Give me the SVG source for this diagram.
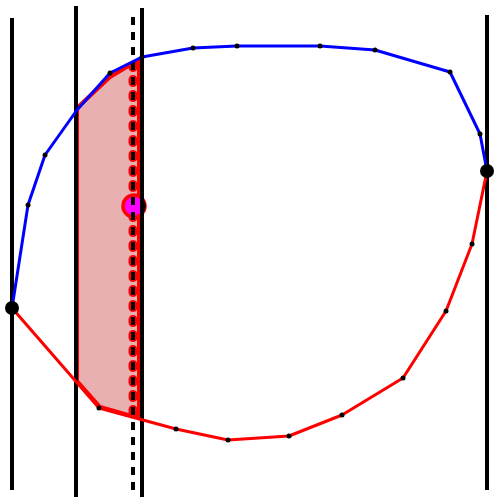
<svg xmlns="http://www.w3.org/2000/svg" width="494" height="497" viewBox="0 0 494 497">
<style>
.vline{stroke:#000;stroke-width:4;fill:none}
.blue{stroke:#0000ff;stroke-width:3;fill:none;stroke-linejoin:round}
.red{stroke:#ff0000;stroke-width:3;fill:none;stroke-linejoin:round}
.dot{fill:#000}
</style>
<defs>
<clipPath id="regclip"><path d="M77,108 L110,77 L130,65 L141,60 L141,417 L128,415 L100,407 L77,381 Z"/></clipPath>
</defs>
<rect width="494" height="497" fill="#fff"/>
<g id="region">
<path d="M77,108 L110,77 L130,65 L141,60 L141,417 L128,415 L100,407 L77,381 Z" fill="#e8b0b0" stroke="#ff0000" stroke-width="4" stroke-linejoin="round"/>
<line x1="139" y1="62" x2="139" y2="416" stroke="#ff0000" stroke-width="4"/>
<line x1="133" y1="17" x2="133" y2="492" stroke="#ff0000" stroke-width="9" stroke-linecap="round" stroke-dasharray="3 12" stroke-dashoffset="-2.5" clip-path="url(#regclip)"/>
</g>
<g id="point">
<circle cx="134" cy="206" r="11" fill="#ff00ff" stroke="#ff0000" stroke-width="3.5"/>
<path d="M141.5,198 A11,11 0 0 1 141.5,214" fill="none" stroke="#000" stroke-width="1.5"/>
</g>
<g id="lines">
<line class="vline" x1="12" y1="18" x2="12" y2="490"/>
<line class="vline" x1="76" y1="6" x2="76" y2="497"/>
<line class="vline" x1="142" y1="8" x2="142" y2="497"/>
<line class="vline" x1="487" y1="15" x2="487" y2="490"/>
<line x1="133" y1="17" x2="133" y2="492" stroke="#000" stroke-width="4" stroke-dasharray="8 7"/>
</g>
<g id="connectors">
<polyline class="blue" points="12,308 28,205 45,155 77,110 110,73 142,57 193,48 237,46 320,46 375,50 450,72 480,134 487,171"/>
<polyline class="red" points="12,308 99,408 176,429 228,440 289,436 342,415 403,378 446,311 472,244 487,171"/>
</g>
<g id="dots">
<circle class="dot" cx="28" cy="205" r="2.5"/>
<circle class="dot" cx="45" cy="155" r="2.5"/>
<circle class="dot" cx="110" cy="73" r="2.5"/>
<circle class="dot" cx="142" cy="57" r="2.5"/>
<circle class="dot" cx="193" cy="48" r="2.5"/>
<circle class="dot" cx="237" cy="46" r="2.5"/>
<circle class="dot" cx="320" cy="46" r="2.5"/>
<circle class="dot" cx="375" cy="50" r="2.5"/>
<circle class="dot" cx="450" cy="72" r="2.5"/>
<circle class="dot" cx="480" cy="134" r="2.5"/>
<circle class="dot" cx="99" cy="408" r="2.5"/>
<circle class="dot" cx="176" cy="429" r="2.5"/>
<circle class="dot" cx="228" cy="440" r="2.5"/>
<circle class="dot" cx="289" cy="436" r="2.5"/>
<circle class="dot" cx="342" cy="415" r="2.5"/>
<circle class="dot" cx="403" cy="378" r="2.5"/>
<circle class="dot" cx="446" cy="311" r="2.5"/>
<circle class="dot" cx="472" cy="244" r="2.5"/>
<circle class="dot" cx="12" cy="308" r="7"/>
<circle class="dot" cx="487" cy="171" r="7"/>
</g>
</svg>
